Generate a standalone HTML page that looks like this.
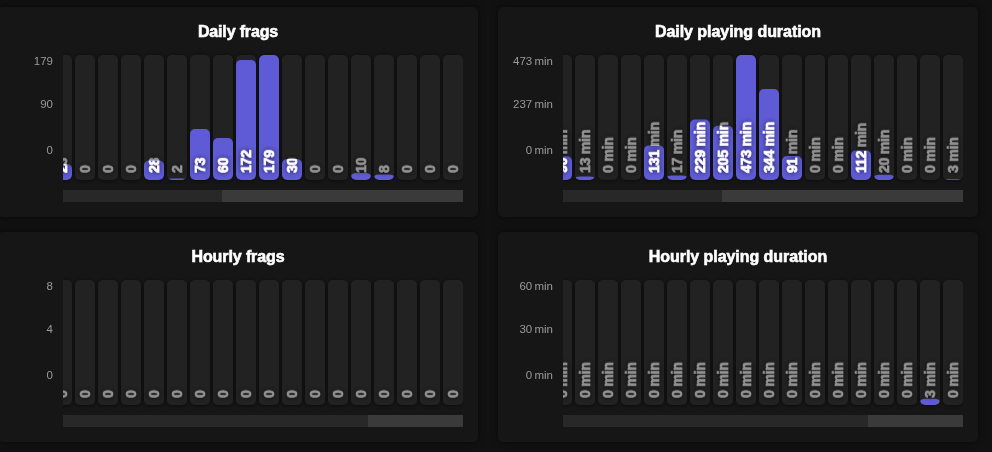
<!DOCTYPE html>
<html><head><meta charset="utf-8"><title>Stats</title>
<style>
html,body{margin:0;padding:0;background:#111111;width:992px;height:452px;overflow:hidden;font-family:"Liberation Sans", Arial, sans-serif;}
.panel{position:absolute;width:480px;height:210px;background:#161616;border-radius:5px;box-shadow:0 0 6px rgba(0,0,0,.55);}
.panel svg{position:absolute;left:0;top:0;display:block;overflow:hidden}
.title{position:absolute;left:0;top:15px;width:100%;text-align:center;font-weight:bold;font-size:16px;line-height:20px;color:#ffffff;-webkit-text-stroke:0.6px #ffffff;}
.yl{font-size:11.5px;word-spacing:-0.9px;fill:#9a9a9a;text-anchor:end;font-family:"Liberation Sans", Arial, sans-serif}
.bb{fill:#222222;filter:url(#bs)}
.br{fill:#5f5bd6}
.dl{font-size:14px;letter-spacing:-0.2px;font-weight:bold;fill:#939393;stroke:#939393;stroke-width:0.6px;font-family:"Liberation Sans", Arial, sans-serif;filter:url(#ts)}
.dw{font-size:14px;letter-spacing:-0.2px;font-weight:bold;fill:#fff;stroke:#fff;stroke-width:0.6px;font-family:"Liberation Sans", Arial, sans-serif;filter:url(#ts)}
.tr{fill:#282828}
.th{fill:#3a3a3a}
</style></head><body>
<svg width="0" height="0" style="position:absolute"><defs>
<filter id="bs" x="-50%" y="-50%" width="200%" height="200%"><feDropShadow dx="0" dy="0.5" stdDeviation="2.2" flood-color="#000" flood-opacity="0.55"/></filter>
<filter id="ts" x="-50%" y="-50%" width="200%" height="200%"><feDropShadow dx="0" dy="0" stdDeviation="2.6" flood-color="#000" flood-opacity="0.75"/></filter>
</defs></svg>
<div class="panel" style="left:-2px;top:7px">
<div class="title" style="letter-spacing:-0.15px">Daily frags</div>
<svg width="480" height="210" viewBox="0 0 480 210">
<defs><clipPath id="pc0"><rect x="65" y="0" width="400" height="210"/></clipPath><clipPath id="k0_0"><rect x="54" y="48" width="20" height="125" rx="5"/></clipPath><clipPath id="c0_0"><rect x="54" y="156.94" width="20" height="16.06" rx="5" ry="5.00"/></clipPath><clipPath id="k0_4"><rect x="146" y="48" width="20" height="125" rx="5"/></clipPath><clipPath id="c0_4"><rect x="146" y="153.45" width="20" height="19.55" rx="5" ry="5.00"/></clipPath><clipPath id="k0_5"><rect x="169" y="48" width="20" height="125" rx="5"/></clipPath><clipPath id="c0_5"><rect x="169" y="171.60" width="20" height="1.40" rx="5" ry="0.70"/></clipPath><clipPath id="k0_6"><rect x="192" y="48" width="20" height="125" rx="5"/></clipPath><clipPath id="c0_6"><rect x="192" y="122.02" width="20" height="50.98" rx="5" ry="5.00"/></clipPath><clipPath id="k0_7"><rect x="215" y="48" width="20" height="125" rx="5"/></clipPath><clipPath id="c0_7"><rect x="215" y="131.10" width="20" height="41.90" rx="5" ry="5.00"/></clipPath><clipPath id="k0_8"><rect x="238" y="48" width="20" height="125" rx="5"/></clipPath><clipPath id="c0_8"><rect x="238" y="52.89" width="20" height="120.11" rx="5" ry="5.00"/></clipPath><clipPath id="k0_9"><rect x="261" y="48" width="20" height="125" rx="5"/></clipPath><clipPath id="c0_9"><rect x="261" y="48.00" width="20" height="125.00" rx="5" ry="5.00"/></clipPath><clipPath id="k0_10"><rect x="284" y="48" width="20" height="125" rx="5"/></clipPath><clipPath id="c0_10"><rect x="284" y="152.05" width="20" height="20.95" rx="5" ry="5.00"/></clipPath><clipPath id="k0_13"><rect x="353" y="48" width="20" height="125" rx="5"/></clipPath><clipPath id="c0_13"><rect x="353" y="166.02" width="20" height="6.98" rx="5" ry="3.49"/></clipPath><clipPath id="k0_14"><rect x="376" y="48" width="20" height="125" rx="5"/></clipPath><clipPath id="c0_14"><rect x="376" y="167.41" width="20" height="5.59" rx="5" ry="2.79"/></clipPath></defs>
<text class="yl" x="55" y="58">179</text>
<text class="yl" x="55" y="101.2">90</text>
<text class="yl" x="55" y="147">0</text>
<g clip-path="url(#pc0)">
<rect class="bb" x="54" y="48" width="20" height="125" rx="5"/>
<rect class="bb" x="77" y="48" width="20" height="125" rx="5"/>
<rect class="bb" x="100" y="48" width="20" height="125" rx="5"/>
<rect class="bb" x="123" y="48" width="20" height="125" rx="5"/>
<rect class="bb" x="146" y="48" width="20" height="125" rx="5"/>
<rect class="bb" x="169" y="48" width="20" height="125" rx="5"/>
<rect class="bb" x="192" y="48" width="20" height="125" rx="5"/>
<rect class="bb" x="215" y="48" width="20" height="125" rx="5"/>
<rect class="bb" x="238" y="48" width="20" height="125" rx="5"/>
<rect class="bb" x="261" y="48" width="20" height="125" rx="5"/>
<rect class="bb" x="284" y="48" width="20" height="125" rx="5"/>
<rect class="bb" x="307" y="48" width="20" height="125" rx="5"/>
<rect class="bb" x="330" y="48" width="20" height="125" rx="5"/>
<rect class="bb" x="353" y="48" width="20" height="125" rx="5"/>
<rect class="bb" x="376" y="48" width="20" height="125" rx="5"/>
<rect class="bb" x="399" y="48" width="20" height="125" rx="5"/>
<rect class="bb" x="422" y="48" width="20" height="125" rx="5"/>
<rect class="bb" x="445" y="48" width="20" height="125" rx="5"/>
<text class="dl" transform="translate(69.00 165.9) rotate(-90)">23</text>
<g clip-path="url(#k0_0)"><rect class="br" x="54" y="156.94" width="20" height="16.06" rx="5" ry="5.00"/>
<g clip-path="url(#c0_0)"><text class="dw" transform="translate(69.00 165.9) rotate(-90)">23</text></g></g>
<text class="dl" transform="translate(92.00 165.9) rotate(-90)">0</text>
<text class="dl" transform="translate(115.00 165.9) rotate(-90)">0</text>
<text class="dl" transform="translate(138.00 165.9) rotate(-90)">0</text>
<text class="dl" transform="translate(161.00 165.9) rotate(-90)">28</text>
<g clip-path="url(#k0_4)"><rect class="br" x="146" y="153.45" width="20" height="19.55" rx="5" ry="5.00"/>
<g clip-path="url(#c0_4)"><text class="dw" transform="translate(161.00 165.9) rotate(-90)">28</text></g></g>
<text class="dl" transform="translate(184.00 165.9) rotate(-90)">2</text>
<g clip-path="url(#k0_5)"><rect class="br" x="169" y="171.60" width="20" height="1.40" rx="5" ry="0.70"/>
<g clip-path="url(#c0_5)"><text class="dw" transform="translate(184.00 165.9) rotate(-90)">2</text></g></g>
<text class="dl" transform="translate(207.00 165.9) rotate(-90)">73</text>
<g clip-path="url(#k0_6)"><rect class="br" x="192" y="122.02" width="20" height="50.98" rx="5" ry="5.00"/>
<g clip-path="url(#c0_6)"><text class="dw" transform="translate(207.00 165.9) rotate(-90)">73</text></g></g>
<text class="dl" transform="translate(230.00 165.9) rotate(-90)">60</text>
<g clip-path="url(#k0_7)"><rect class="br" x="215" y="131.10" width="20" height="41.90" rx="5" ry="5.00"/>
<g clip-path="url(#c0_7)"><text class="dw" transform="translate(230.00 165.9) rotate(-90)">60</text></g></g>
<text class="dl" transform="translate(253.00 165.9) rotate(-90)">172</text>
<g clip-path="url(#k0_8)"><rect class="br" x="238" y="52.89" width="20" height="120.11" rx="5" ry="5.00"/>
<g clip-path="url(#c0_8)"><text class="dw" transform="translate(253.00 165.9) rotate(-90)">172</text></g></g>
<text class="dl" transform="translate(276.00 165.9) rotate(-90)">179</text>
<g clip-path="url(#k0_9)"><rect class="br" x="261" y="48.00" width="20" height="125.00" rx="5" ry="5.00"/>
<g clip-path="url(#c0_9)"><text class="dw" transform="translate(276.00 165.9) rotate(-90)">179</text></g></g>
<text class="dl" transform="translate(299.00 165.9) rotate(-90)">30</text>
<g clip-path="url(#k0_10)"><rect class="br" x="284" y="152.05" width="20" height="20.95" rx="5" ry="5.00"/>
<g clip-path="url(#c0_10)"><text class="dw" transform="translate(299.00 165.9) rotate(-90)">30</text></g></g>
<text class="dl" transform="translate(322.00 165.9) rotate(-90)">0</text>
<text class="dl" transform="translate(345.00 165.9) rotate(-90)">0</text>
<text class="dl" transform="translate(368.00 165.9) rotate(-90)">10</text>
<g clip-path="url(#k0_13)"><rect class="br" x="353" y="166.02" width="20" height="6.98" rx="5" ry="3.49"/>
<g clip-path="url(#c0_13)"><text class="dw" transform="translate(368.00 165.9) rotate(-90)">10</text></g></g>
<text class="dl" transform="translate(391.00 165.9) rotate(-90)">8</text>
<g clip-path="url(#k0_14)"><rect class="br" x="376" y="167.41" width="20" height="5.59" rx="5" ry="2.79"/>
<g clip-path="url(#c0_14)"><text class="dw" transform="translate(391.00 165.9) rotate(-90)">8</text></g></g>
<text class="dl" transform="translate(414.00 165.9) rotate(-90)">0</text>
<text class="dl" transform="translate(437.00 165.9) rotate(-90)">0</text>
<text class="dl" transform="translate(460.00 165.9) rotate(-90)">0</text>
</g>
<rect class="tr" x="65" y="183" width="400" height="12"/>
<rect class="th" x="224" y="183" width="241" height="12"/>
</svg></div>
<div class="panel" style="left:498px;top:7px">
<div class="title" style="letter-spacing:-0.05px">Daily playing duration</div>
<svg width="480" height="210" viewBox="0 0 480 210">
<defs><clipPath id="pc1"><rect x="65" y="0" width="400" height="210"/></clipPath><clipPath id="k1_0"><rect x="54" y="48" width="20" height="125" rx="5"/></clipPath><clipPath id="c1_0"><rect x="54" y="149.22" width="20" height="23.78" rx="5" ry="5.00"/></clipPath><clipPath id="k1_1"><rect x="77" y="48" width="20" height="125" rx="5"/></clipPath><clipPath id="c1_1"><rect x="77" y="169.56" width="20" height="3.44" rx="5" ry="1.72"/></clipPath><clipPath id="k1_4"><rect x="146" y="48" width="20" height="125" rx="5"/></clipPath><clipPath id="c1_4"><rect x="146" y="138.38" width="20" height="34.62" rx="5" ry="5.00"/></clipPath><clipPath id="k1_5"><rect x="169" y="48" width="20" height="125" rx="5"/></clipPath><clipPath id="c1_5"><rect x="169" y="168.51" width="20" height="4.49" rx="5" ry="2.25"/></clipPath><clipPath id="k1_6"><rect x="192" y="48" width="20" height="125" rx="5"/></clipPath><clipPath id="c1_6"><rect x="192" y="112.48" width="20" height="60.52" rx="5" ry="5.00"/></clipPath><clipPath id="k1_7"><rect x="215" y="48" width="20" height="125" rx="5"/></clipPath><clipPath id="c1_7"><rect x="215" y="118.82" width="20" height="54.18" rx="5" ry="5.00"/></clipPath><clipPath id="k1_8"><rect x="238" y="48" width="20" height="125" rx="5"/></clipPath><clipPath id="c1_8"><rect x="238" y="48.00" width="20" height="125.00" rx="5" ry="5.00"/></clipPath><clipPath id="k1_9"><rect x="261" y="48" width="20" height="125" rx="5"/></clipPath><clipPath id="c1_9"><rect x="261" y="82.09" width="20" height="90.91" rx="5" ry="5.00"/></clipPath><clipPath id="k1_10"><rect x="284" y="48" width="20" height="125" rx="5"/></clipPath><clipPath id="c1_10"><rect x="284" y="148.95" width="20" height="24.05" rx="5" ry="5.00"/></clipPath><clipPath id="k1_13"><rect x="353" y="48" width="20" height="125" rx="5"/></clipPath><clipPath id="c1_13"><rect x="353" y="143.40" width="20" height="29.60" rx="5" ry="5.00"/></clipPath><clipPath id="k1_14"><rect x="376" y="48" width="20" height="125" rx="5"/></clipPath><clipPath id="c1_14"><rect x="376" y="167.71" width="20" height="5.29" rx="5" ry="2.64"/></clipPath><clipPath id="k1_17"><rect x="445" y="48" width="20" height="125" rx="5"/></clipPath><clipPath id="c1_17"><rect x="445" y="172.21" width="20" height="0.79" rx="5" ry="0.40"/></clipPath></defs>
<text class="yl" x="55" y="58">473 min</text>
<text class="yl" x="55" y="101.2">237 min</text>
<text class="yl" x="55" y="147">0 min</text>
<g clip-path="url(#pc1)">
<rect class="bb" x="54" y="48" width="20" height="125" rx="5"/>
<rect class="bb" x="77" y="48" width="20" height="125" rx="5"/>
<rect class="bb" x="100" y="48" width="20" height="125" rx="5"/>
<rect class="bb" x="123" y="48" width="20" height="125" rx="5"/>
<rect class="bb" x="146" y="48" width="20" height="125" rx="5"/>
<rect class="bb" x="169" y="48" width="20" height="125" rx="5"/>
<rect class="bb" x="192" y="48" width="20" height="125" rx="5"/>
<rect class="bb" x="215" y="48" width="20" height="125" rx="5"/>
<rect class="bb" x="238" y="48" width="20" height="125" rx="5"/>
<rect class="bb" x="261" y="48" width="20" height="125" rx="5"/>
<rect class="bb" x="284" y="48" width="20" height="125" rx="5"/>
<rect class="bb" x="307" y="48" width="20" height="125" rx="5"/>
<rect class="bb" x="330" y="48" width="20" height="125" rx="5"/>
<rect class="bb" x="353" y="48" width="20" height="125" rx="5"/>
<rect class="bb" x="376" y="48" width="20" height="125" rx="5"/>
<rect class="bb" x="399" y="48" width="20" height="125" rx="5"/>
<rect class="bb" x="422" y="48" width="20" height="125" rx="5"/>
<rect class="bb" x="445" y="48" width="20" height="125" rx="5"/>
<text class="dl" transform="translate(69.00 165.9) rotate(-90)">90 min</text>
<g clip-path="url(#k1_0)"><rect class="br" x="54" y="149.22" width="20" height="23.78" rx="5" ry="5.00"/>
<g clip-path="url(#c1_0)"><text class="dw" transform="translate(69.00 165.9) rotate(-90)">90 min</text></g></g>
<text class="dl" transform="translate(92.00 165.9) rotate(-90)">13 min</text>
<g clip-path="url(#k1_1)"><rect class="br" x="77" y="169.56" width="20" height="3.44" rx="5" ry="1.72"/>
<g clip-path="url(#c1_1)"><text class="dw" transform="translate(92.00 165.9) rotate(-90)">13 min</text></g></g>
<text class="dl" transform="translate(115.00 165.9) rotate(-90)">0 min</text>
<text class="dl" transform="translate(138.00 165.9) rotate(-90)">0 min</text>
<text class="dl" transform="translate(161.00 165.9) rotate(-90)">131 min</text>
<g clip-path="url(#k1_4)"><rect class="br" x="146" y="138.38" width="20" height="34.62" rx="5" ry="5.00"/>
<g clip-path="url(#c1_4)"><text class="dw" transform="translate(161.00 165.9) rotate(-90)">131 min</text></g></g>
<text class="dl" transform="translate(184.00 165.9) rotate(-90)">17 min</text>
<g clip-path="url(#k1_5)"><rect class="br" x="169" y="168.51" width="20" height="4.49" rx="5" ry="2.25"/>
<g clip-path="url(#c1_5)"><text class="dw" transform="translate(184.00 165.9) rotate(-90)">17 min</text></g></g>
<text class="dl" transform="translate(207.00 165.9) rotate(-90)">229 min</text>
<g clip-path="url(#k1_6)"><rect class="br" x="192" y="112.48" width="20" height="60.52" rx="5" ry="5.00"/>
<g clip-path="url(#c1_6)"><text class="dw" transform="translate(207.00 165.9) rotate(-90)">229 min</text></g></g>
<text class="dl" transform="translate(230.00 165.9) rotate(-90)">205 min</text>
<g clip-path="url(#k1_7)"><rect class="br" x="215" y="118.82" width="20" height="54.18" rx="5" ry="5.00"/>
<g clip-path="url(#c1_7)"><text class="dw" transform="translate(230.00 165.9) rotate(-90)">205 min</text></g></g>
<text class="dl" transform="translate(253.00 165.9) rotate(-90)">473 min</text>
<g clip-path="url(#k1_8)"><rect class="br" x="238" y="48.00" width="20" height="125.00" rx="5" ry="5.00"/>
<g clip-path="url(#c1_8)"><text class="dw" transform="translate(253.00 165.9) rotate(-90)">473 min</text></g></g>
<text class="dl" transform="translate(276.00 165.9) rotate(-90)">344 min</text>
<g clip-path="url(#k1_9)"><rect class="br" x="261" y="82.09" width="20" height="90.91" rx="5" ry="5.00"/>
<g clip-path="url(#c1_9)"><text class="dw" transform="translate(276.00 165.9) rotate(-90)">344 min</text></g></g>
<text class="dl" transform="translate(299.00 165.9) rotate(-90)">91 min</text>
<g clip-path="url(#k1_10)"><rect class="br" x="284" y="148.95" width="20" height="24.05" rx="5" ry="5.00"/>
<g clip-path="url(#c1_10)"><text class="dw" transform="translate(299.00 165.9) rotate(-90)">91 min</text></g></g>
<text class="dl" transform="translate(322.00 165.9) rotate(-90)">0 min</text>
<text class="dl" transform="translate(345.00 165.9) rotate(-90)">0 min</text>
<text class="dl" transform="translate(368.00 165.9) rotate(-90)">112 min</text>
<g clip-path="url(#k1_13)"><rect class="br" x="353" y="143.40" width="20" height="29.60" rx="5" ry="5.00"/>
<g clip-path="url(#c1_13)"><text class="dw" transform="translate(368.00 165.9) rotate(-90)">112 min</text></g></g>
<text class="dl" transform="translate(391.00 165.9) rotate(-90)">20 min</text>
<g clip-path="url(#k1_14)"><rect class="br" x="376" y="167.71" width="20" height="5.29" rx="5" ry="2.64"/>
<g clip-path="url(#c1_14)"><text class="dw" transform="translate(391.00 165.9) rotate(-90)">20 min</text></g></g>
<text class="dl" transform="translate(414.00 165.9) rotate(-90)">0 min</text>
<text class="dl" transform="translate(437.00 165.9) rotate(-90)">0 min</text>
<text class="dl" transform="translate(460.00 165.9) rotate(-90)">3 min</text>
<g clip-path="url(#k1_17)"><rect class="br" x="445" y="172.21" width="20" height="0.79" rx="5" ry="0.40"/>
<g clip-path="url(#c1_17)"><text class="dw" transform="translate(460.00 165.9) rotate(-90)">3 min</text></g></g>
</g>
<rect class="tr" x="65" y="183" width="400" height="12"/>
<rect class="th" x="224" y="183" width="241" height="12"/>
</svg></div>
<div class="panel" style="left:-2px;top:232px">
<div class="title" style="letter-spacing:-0.1px">Hourly frags</div>
<svg width="480" height="210" viewBox="0 0 480 210">
<defs><clipPath id="pc2"><rect x="65" y="0" width="400" height="210"/></clipPath></defs>
<text class="yl" x="55" y="58">8</text>
<text class="yl" x="55" y="101.2">4</text>
<text class="yl" x="55" y="147">0</text>
<g clip-path="url(#pc2)">
<rect class="bb" x="54" y="48" width="20" height="125" rx="5"/>
<rect class="bb" x="77" y="48" width="20" height="125" rx="5"/>
<rect class="bb" x="100" y="48" width="20" height="125" rx="5"/>
<rect class="bb" x="123" y="48" width="20" height="125" rx="5"/>
<rect class="bb" x="146" y="48" width="20" height="125" rx="5"/>
<rect class="bb" x="169" y="48" width="20" height="125" rx="5"/>
<rect class="bb" x="192" y="48" width="20" height="125" rx="5"/>
<rect class="bb" x="215" y="48" width="20" height="125" rx="5"/>
<rect class="bb" x="238" y="48" width="20" height="125" rx="5"/>
<rect class="bb" x="261" y="48" width="20" height="125" rx="5"/>
<rect class="bb" x="284" y="48" width="20" height="125" rx="5"/>
<rect class="bb" x="307" y="48" width="20" height="125" rx="5"/>
<rect class="bb" x="330" y="48" width="20" height="125" rx="5"/>
<rect class="bb" x="353" y="48" width="20" height="125" rx="5"/>
<rect class="bb" x="376" y="48" width="20" height="125" rx="5"/>
<rect class="bb" x="399" y="48" width="20" height="125" rx="5"/>
<rect class="bb" x="422" y="48" width="20" height="125" rx="5"/>
<rect class="bb" x="445" y="48" width="20" height="125" rx="5"/>
<text class="dl" transform="translate(69.00 165.9) rotate(-90)">0</text>
<text class="dl" transform="translate(92.00 165.9) rotate(-90)">0</text>
<text class="dl" transform="translate(115.00 165.9) rotate(-90)">0</text>
<text class="dl" transform="translate(138.00 165.9) rotate(-90)">0</text>
<text class="dl" transform="translate(161.00 165.9) rotate(-90)">0</text>
<text class="dl" transform="translate(184.00 165.9) rotate(-90)">0</text>
<text class="dl" transform="translate(207.00 165.9) rotate(-90)">0</text>
<text class="dl" transform="translate(230.00 165.9) rotate(-90)">0</text>
<text class="dl" transform="translate(253.00 165.9) rotate(-90)">0</text>
<text class="dl" transform="translate(276.00 165.9) rotate(-90)">0</text>
<text class="dl" transform="translate(299.00 165.9) rotate(-90)">0</text>
<text class="dl" transform="translate(322.00 165.9) rotate(-90)">0</text>
<text class="dl" transform="translate(345.00 165.9) rotate(-90)">0</text>
<text class="dl" transform="translate(368.00 165.9) rotate(-90)">0</text>
<text class="dl" transform="translate(391.00 165.9) rotate(-90)">0</text>
<text class="dl" transform="translate(414.00 165.9) rotate(-90)">0</text>
<text class="dl" transform="translate(437.00 165.9) rotate(-90)">0</text>
<text class="dl" transform="translate(460.00 165.9) rotate(-90)">0</text>
</g>
<rect class="tr" x="65" y="183" width="400" height="12"/>
<rect class="th" x="370" y="183" width="95" height="12"/>
</svg></div>
<div class="panel" style="left:498px;top:232px">
<div class="title" style="letter-spacing:-0.05px">Hourly playing duration</div>
<svg width="480" height="210" viewBox="0 0 480 210">
<defs><clipPath id="pc3"><rect x="65" y="0" width="400" height="210"/></clipPath><clipPath id="k3_16"><rect x="422" y="48" width="20" height="125" rx="5"/></clipPath><clipPath id="c3_16"><rect x="422" y="166.75" width="20" height="6.25" rx="5" ry="3.12"/></clipPath></defs>
<text class="yl" x="55" y="58">60 min</text>
<text class="yl" x="55" y="101.2">30 min</text>
<text class="yl" x="55" y="147">0 min</text>
<g clip-path="url(#pc3)">
<rect class="bb" x="54" y="48" width="20" height="125" rx="5"/>
<rect class="bb" x="77" y="48" width="20" height="125" rx="5"/>
<rect class="bb" x="100" y="48" width="20" height="125" rx="5"/>
<rect class="bb" x="123" y="48" width="20" height="125" rx="5"/>
<rect class="bb" x="146" y="48" width="20" height="125" rx="5"/>
<rect class="bb" x="169" y="48" width="20" height="125" rx="5"/>
<rect class="bb" x="192" y="48" width="20" height="125" rx="5"/>
<rect class="bb" x="215" y="48" width="20" height="125" rx="5"/>
<rect class="bb" x="238" y="48" width="20" height="125" rx="5"/>
<rect class="bb" x="261" y="48" width="20" height="125" rx="5"/>
<rect class="bb" x="284" y="48" width="20" height="125" rx="5"/>
<rect class="bb" x="307" y="48" width="20" height="125" rx="5"/>
<rect class="bb" x="330" y="48" width="20" height="125" rx="5"/>
<rect class="bb" x="353" y="48" width="20" height="125" rx="5"/>
<rect class="bb" x="376" y="48" width="20" height="125" rx="5"/>
<rect class="bb" x="399" y="48" width="20" height="125" rx="5"/>
<rect class="bb" x="422" y="48" width="20" height="125" rx="5"/>
<rect class="bb" x="445" y="48" width="20" height="125" rx="5"/>
<text class="dl" transform="translate(69.00 165.9) rotate(-90)">0 min</text>
<text class="dl" transform="translate(92.00 165.9) rotate(-90)">0 min</text>
<text class="dl" transform="translate(115.00 165.9) rotate(-90)">0 min</text>
<text class="dl" transform="translate(138.00 165.9) rotate(-90)">0 min</text>
<text class="dl" transform="translate(161.00 165.9) rotate(-90)">0 min</text>
<text class="dl" transform="translate(184.00 165.9) rotate(-90)">0 min</text>
<text class="dl" transform="translate(207.00 165.9) rotate(-90)">0 min</text>
<text class="dl" transform="translate(230.00 165.9) rotate(-90)">0 min</text>
<text class="dl" transform="translate(253.00 165.9) rotate(-90)">0 min</text>
<text class="dl" transform="translate(276.00 165.9) rotate(-90)">0 min</text>
<text class="dl" transform="translate(299.00 165.9) rotate(-90)">0 min</text>
<text class="dl" transform="translate(322.00 165.9) rotate(-90)">0 min</text>
<text class="dl" transform="translate(345.00 165.9) rotate(-90)">0 min</text>
<text class="dl" transform="translate(368.00 165.9) rotate(-90)">0 min</text>
<text class="dl" transform="translate(391.00 165.9) rotate(-90)">0 min</text>
<text class="dl" transform="translate(414.00 165.9) rotate(-90)">0 min</text>
<text class="dl" transform="translate(437.00 165.9) rotate(-90)">3 min</text>
<g clip-path="url(#k3_16)"><rect class="br" x="422" y="166.75" width="20" height="6.25" rx="5" ry="3.12"/>
<g clip-path="url(#c3_16)"><text class="dw" transform="translate(437.00 165.9) rotate(-90)">3 min</text></g></g>
<text class="dl" transform="translate(460.00 165.9) rotate(-90)">0 min</text>
</g>
<rect class="tr" x="65" y="183" width="400" height="12"/>
<rect class="th" x="370" y="183" width="95" height="12"/>
</svg></div>
</body></html>
